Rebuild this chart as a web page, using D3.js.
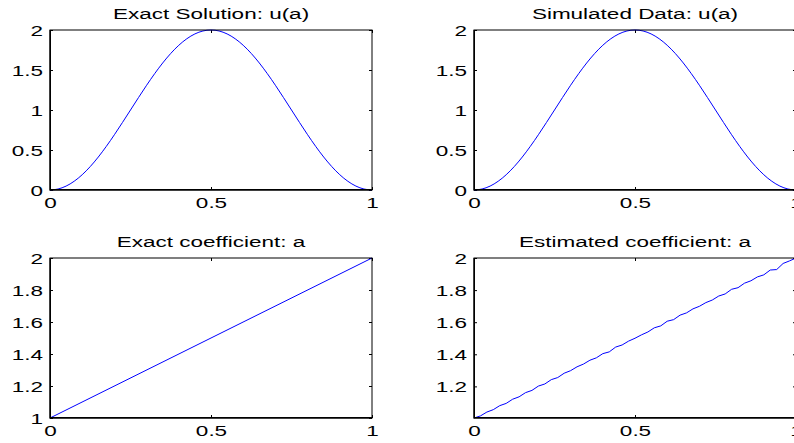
<!DOCTYPE html>
<html lang="en">
<head>
<meta charset="UTF-8">
<title>Exact vs estimated</title>
<script src="https://cdnjs.cloudflare.com/ajax/libs/d3/7.8.5/d3.min.js"></script>
<style>
  html, body { margin: 0; padding: 0; background: #fff; }
  svg { display: block; }
  text { font-family: "Liberation Sans", Arial, Helvetica, sans-serif; fill: #000; }
</style>
</head>
<body>
<svg id="chart" width="794" height="443"></svg>
<script>
// u(a) curves, sampled on 41 points
const uX = [0, 0.025, 0.05, 0.075, 0.1, 0.125, 0.15, 0.175, 0.2, 0.225,
  0.25, 0.275, 0.3, 0.325, 0.35, 0.375, 0.4, 0.425, 0.45, 0.475,
  0.5, 0.525, 0.55, 0.575, 0.6, 0.625, 0.65, 0.675, 0.7, 0.725,
  0.75, 0.775, 0.8, 0.825, 0.85, 0.875, 0.9, 0.925, 0.95, 0.975, 1];
const uExact = [0, 0.0123, 0.0489, 0.1090, 0.1910, 0.2929, 0.4122, 0.5460, 0.6910, 0.8436,
  1.0000, 1.1564, 1.3090, 1.4540, 1.5878, 1.7071, 1.8090, 1.8910, 1.9511, 1.9877,
  2.0000, 1.9877, 1.9511, 1.8910, 1.8090, 1.7071, 1.5878, 1.4540, 1.3090, 1.1564,
  1.0000, 0.8436, 0.6910, 0.5460, 0.4122, 0.2929, 0.1910, 0.1090, 0.0489, 0.0123, 0];
const uSim = [0, 0.0123, 0.0489, 0.1090, 0.1910, 0.2929, 0.4122, 0.5460, 0.6910, 0.8436,
  1.0000, 1.1564, 1.3090, 1.4540, 1.5878, 1.7071, 1.8090, 1.8910, 1.9511, 1.9877,
  2.0000, 1.9877, 1.9511, 1.8910, 1.8090, 1.7071, 1.5878, 1.4540, 1.3090, 1.1564,
  1.0000, 0.8436, 0.6910, 0.5460, 0.4122, 0.2929, 0.1910, 0.1090, 0.0489, 0.0123, 0];

// coefficient a
const aExactX = [0, 1];
const aExact = [1, 2];
const aEstX = [0, 0.02, 0.04, 0.06, 0.08, 0.1, 0.12, 0.14, 0.16, 0.18,
  0.2, 0.22, 0.24, 0.26, 0.28, 0.3, 0.32, 0.34, 0.36, 0.38,
  0.4, 0.42, 0.44, 0.46, 0.48, 0.5, 0.52, 0.54, 0.56, 0.58,
  0.6, 0.62, 0.64, 0.66, 0.68, 0.7, 0.72, 0.74, 0.76, 0.78,
  0.8, 0.82, 0.84, 0.86, 0.88, 0.9, 0.92, 0.94, 0.96, 0.98, 1];
const aEst = [1.003, 1.016, 1.040, 1.055, 1.080, 1.094, 1.120, 1.135, 1.161, 1.175,
  1.202, 1.215, 1.242, 1.255, 1.282, 1.298, 1.322, 1.339, 1.363, 1.378,
  1.404, 1.415, 1.445, 1.458, 1.482, 1.500, 1.521, 1.539, 1.565, 1.577,
  1.606, 1.616, 1.644, 1.658, 1.683, 1.699, 1.722, 1.738, 1.763, 1.776,
  1.805, 1.815, 1.843, 1.858, 1.882, 1.895, 1.925, 1.928, 1.966, 1.982, 2.000];

const xTicks = [0, 0.5, 1];
const uTicks = [0, 0.5, 1, 1.5, 2];
const aTicks = [1, 1.2, 1.4, 1.6, 1.8, 2];

const panels = [
  { title: "Exact Solution: u(a)", left: 50, top: 30, xs: uX, ys: uExact, yDomain: [0, 2], yTicks: uTicks, smooth: true },
  { title: "Simulated Data: u(a)", left: 474, top: 30, xs: uX, ys: uSim, yDomain: [0, 2], yTicks: uTicks, smooth: true },
  { title: "Exact coefficient: a", left: 50, top: 258, xs: aExactX, ys: aExact, yDomain: [1, 2], yTicks: aTicks, smooth: false },
  { title: "Estimated coefficient: a", left: 474, top: 258, xs: aEstX, ys: aEst, yDomain: d3.extent(aEst), yTicks: aTicks, smooth: false }
];

const W = 322, H = 160;
const stretch = 1.5;   // the glyphs in the figure are wide
const fontSize = 15;
const tickLen = 3;

const svg = d3.select("#chart");

function fmt(v) {
  return String(Math.round(v * 10) / 10);
}

function styleLabels(axisG) {
  axisG.attr("font-family", null).attr("font-size", null);
  axisG.select(".domain").remove();
  axisG.selectAll(".tick line").attr("stroke", "#000");
}

panels.forEach(p => {
  const g = svg.append("g").attr("transform", `translate(${p.left},${p.top})`);

  const x = d3.scaleLinear().domain([0, 1]).range([0, W]);
  const y = d3.scaleLinear().domain(p.yDomain).range([H, 0]);
  const yt = p.yTicks.filter(t => t >= p.yDomain[0] - 1e-9 && t <= p.yDomain[1] + 1e-9);

  // bottom axis with labels
  const bottom = g.append("g").attr("transform", `translate(0,${H})`)
    .call(d3.axisBottom(x).tickValues(xTicks).tickSizeInner(-tickLen).tickSizeOuter(0).tickFormat(fmt));
  styleLabels(bottom);
  bottom.selectAll(".tick text")
    .attr("y", null).attr("dy", null)
    .attr("transform", `translate(0,18) scale(${stretch},1)`)
    .style("font-size", fontSize + "px");

  // left axis with labels
  const leftAx = g.append("g")
    .call(d3.axisLeft(y).tickValues(yt).tickSizeInner(-tickLen).tickSizeOuter(0).tickFormat(fmt));
  styleLabels(leftAx);
  leftAx.selectAll(".tick text")
    .attr("x", null).attr("dy", null)
    .attr("transform", `translate(-7,5.4) scale(${stretch},1)`)
    .style("font-size", fontSize + "px");

  // top and right ticks only
  const topAx = g.append("g")
    .call(d3.axisTop(x).tickValues(xTicks).tickSizeInner(-tickLen).tickSizeOuter(0).tickFormat(""));
  styleLabels(topAx);
  const rightAx = g.append("g").attr("transform", `translate(${W},0)`)
    .call(d3.axisRight(y).tickValues(yt).tickSizeInner(-tickLen).tickSizeOuter(0).tickFormat(""));
  styleLabels(rightAx);

  // data line
  const pts = p.xs.map((v, i) => [v, p.ys[i]]);
  g.append("path")
    .datum(pts)
    .attr("fill", "none")
    .attr("stroke", "#0000ff")
    .attr("stroke-width", 1)
    .attr("d", d3.line().x(d => x(d[0])).y(d => y(d[1]))
      .curve(p.smooth ? d3.curveMonotoneX : d3.curveLinear));

  // box
  g.append("rect")
    .attr("x", 0).attr("y", 0).attr("width", W).attr("height", H)
    .attr("fill", "none").attr("stroke", "#000").attr("stroke-width", 1);
  g.append("path")
    .attr("d", `M0.25,0V${H - 0.25}H${W}`)
    .attr("fill", "none").attr("stroke", "#000").attr("stroke-width", 1.5);

  // title
  g.append("text")
    .attr("transform", `translate(${W / 2},-11.5) scale(${stretch},1)`)
    .attr("text-anchor", "middle")
    .style("font-size", fontSize + "px")
    .text(p.title);
});
</script>
</body>
</html>
